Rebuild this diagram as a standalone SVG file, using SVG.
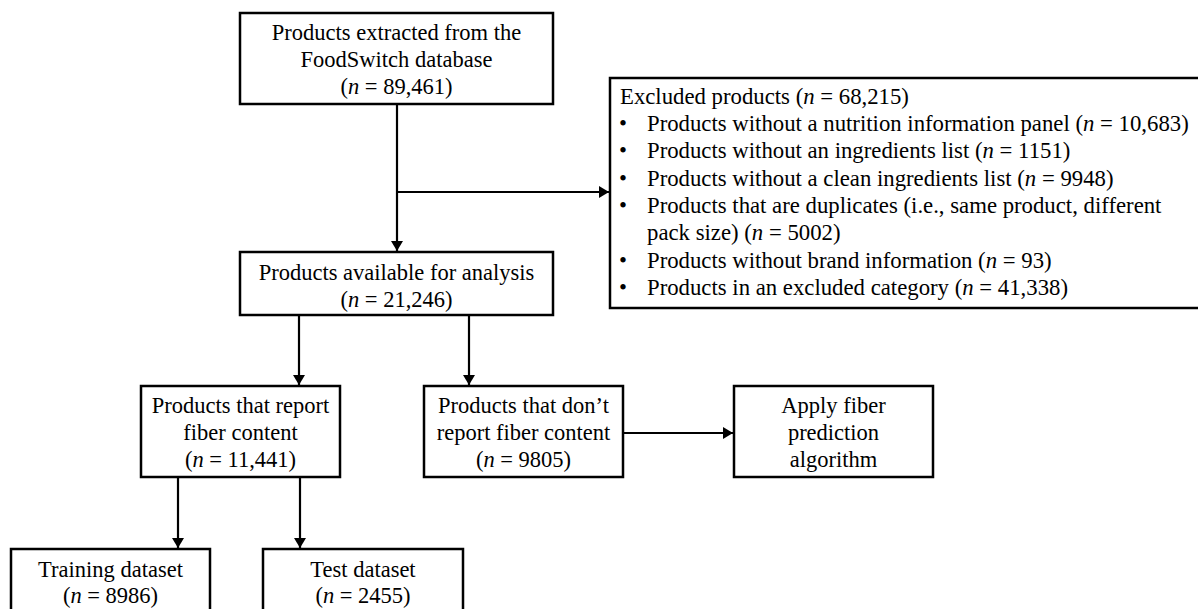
<svg xmlns="http://www.w3.org/2000/svg" width="1198" height="609" viewBox="0 0 1198 609">
<style>
.box{fill:#fff;stroke:#000;stroke-width:2.5}
.t{font-family:"Liberation Serif","Times New Roman",serif;font-size:22.5px;fill:#000}
.x{font-size:22.75px}
.c{text-anchor:middle}
.conn{stroke:#000;stroke-width:2.2;fill:none}
</style>
<defs>
<marker id="ah" markerUnits="userSpaceOnUse" markerWidth="11" markerHeight="12" refX="10" refY="6" orient="auto">
<path d="M0,0 L10,6 L0,12 z" fill="#000"/>
</marker>
</defs>
<rect width="1198" height="609" fill="#fff"/>
<g id="connectors">
<line class="conn" x1="397" y1="104" x2="397" y2="251" marker-end="url(#ah)"/>
<line class="conn" x1="397" y1="192" x2="609" y2="192" marker-end="url(#ah)"/>
<line class="conn" x1="299" y1="315" x2="299" y2="385" marker-end="url(#ah)"/>
<line class="conn" x1="469" y1="315" x2="469" y2="385" marker-end="url(#ah)"/>
<line class="conn" x1="623" y1="433" x2="733" y2="433" marker-end="url(#ah)"/>
<line class="conn" x1="178" y1="477" x2="178" y2="548" marker-end="url(#ah)"/>
<line class="conn" x1="300" y1="477" x2="300" y2="548" marker-end="url(#ah)"/>
</g>
<g id="node-extracted">
<rect class="box" x="240" y="13" width="313" height="91"/>
<text class="t c" x="396.5" y="40">Products extracted from the</text>
<text class="t c" x="396.5" y="67">FoodSwitch database</text>
<text class="t c" x="396.5" y="94">(<tspan font-style="italic">n</tspan> = 89,461)</text>
</g>
<g id="node-excluded">
<rect class="box" x="610" y="78" width="600" height="230"/>
<text class="t x" x="620" y="104">Excluded products (<tspan font-style="italic">n</tspan> = 68,215)</text>
<text class="t x" x="619" y="131">•</text>
<text class="t x" x="647" y="131">Products without a nutrition information panel (<tspan font-style="italic">n</tspan> = 10,683)</text>
<text class="t x" x="619" y="158">•</text>
<text class="t x" x="647" y="158">Products without an ingredients list (<tspan font-style="italic">n</tspan> = 1151)</text>
<text class="t x" x="619" y="186">•</text>
<text class="t x" x="647" y="186">Products without a clean ingredients list (<tspan font-style="italic">n</tspan> = 9948)</text>
<text class="t x" x="619" y="213">•</text>
<text class="t x" x="647" y="213">Products that are duplicates (i.e., same product, different</text>
<text class="t x" x="647" y="240">pack size) (<tspan font-style="italic">n</tspan> = 5002)</text>
<text class="t x" x="619" y="268">•</text>
<text class="t x" x="647" y="268">Products without brand information (<tspan font-style="italic">n</tspan> = 93)</text>
<text class="t x" x="619" y="295">•</text>
<text class="t x" x="647" y="295">Products in an excluded category (<tspan font-style="italic">n</tspan> = 41,338)</text>
</g>
<g id="node-available">
<rect class="box" x="240" y="252" width="313" height="63"/>
<text class="t c" x="396.5" y="280">Products available for analysis</text>
<text class="t c" x="396.5" y="307">(<tspan font-style="italic">n</tspan> = 21,246)</text>
</g>
<g id="node-report">
<rect class="box" x="141" y="386" width="199" height="91"/>
<text class="t c" x="240.5" y="413">Products that report</text>
<text class="t c" x="240.5" y="440">fiber content</text>
<text class="t c" x="240.5" y="467">(<tspan font-style="italic">n</tspan> = 11,441)</text>
</g>
<g id="node-noreport">
<rect class="box" x="424" y="386" width="199" height="91"/>
<text class="t c" x="523.5" y="413">Products that don’t</text>
<text class="t c" x="523.5" y="440">report fiber content</text>
<text class="t c" x="523.5" y="467">(<tspan font-style="italic">n</tspan> = 9805)</text>
</g>
<g id="node-apply">
<rect class="box" x="734" y="386" width="199" height="91"/>
<text class="t c" x="833.5" y="413">Apply fiber</text>
<text class="t c" x="833.5" y="440">prediction</text>
<text class="t c" x="833.5" y="467">algorithm</text>
</g>
<g id="node-training">
<rect class="box" x="11" y="549" width="199" height="75"/>
<text class="t c" x="110.5" y="577">Training dataset</text>
<text class="t c" x="110.5" y="603">(<tspan font-style="italic">n</tspan> = 8986)</text>
</g>
<g id="node-test">
<rect class="box" x="263" y="549" width="200" height="75"/>
<text class="t c" x="363" y="577">Test dataset</text>
<text class="t c" x="363" y="603">(<tspan font-style="italic">n</tspan> = 2455)</text>
</g>
</svg>
